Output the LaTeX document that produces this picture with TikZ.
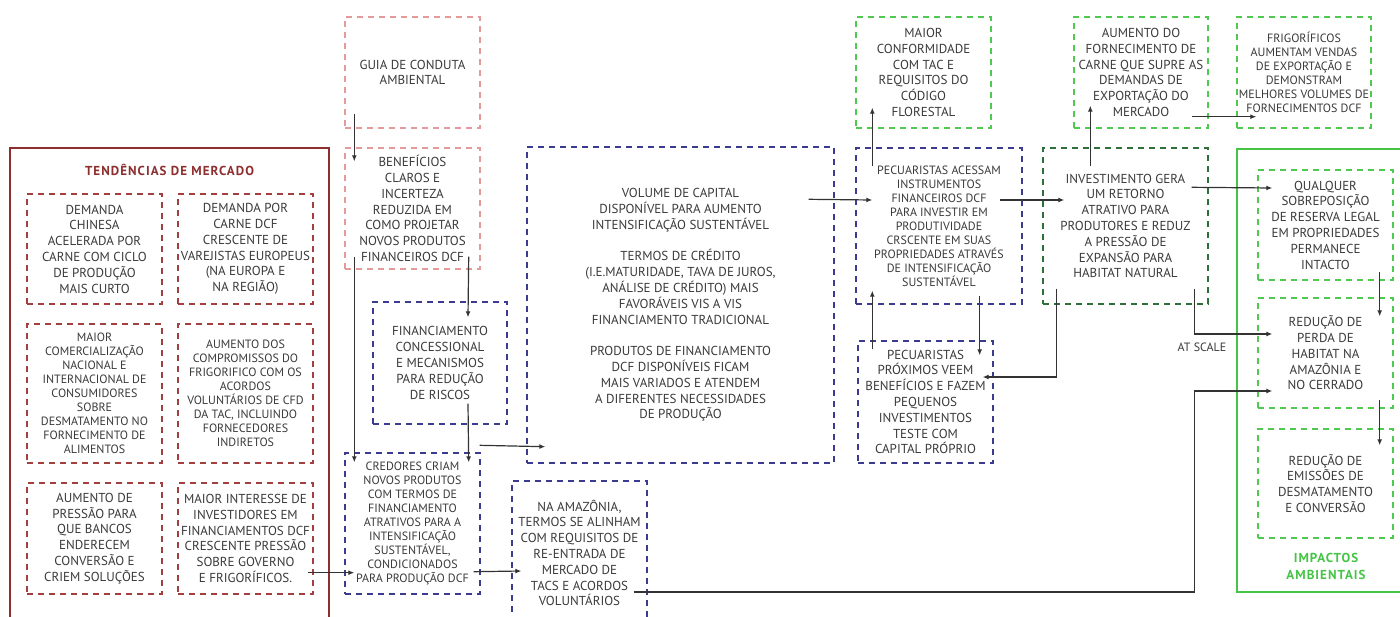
\documentclass[tikz,border=0pt]{standalone}
\usepackage{fontspec}
\setmainfont{PT Sans}
\usetikzlibrary{arrows.meta,calc}
\definecolor{txt}{HTML}{3A3A3A}
\definecolor{mkred}{HTML}{8E2F2F}
\definecolor{dred}{HTML}{A33F3F}
\definecolor{pink}{HTML}{E39A9A}
\definecolor{navy}{HTML}{3B3B8F}
\definecolor{lgreen}{HTML}{4FC94F}
\definecolor{dgreen}{HTML}{2F6F3A}
\definecolor{sgreen}{HTML}{45C445}
\definecolor{arrc}{HTML}{333333}
\newcommand\mynormal{\fontsize{13pt}{15.8pt}\selectfont}
\newcommand\mysmall{\fontsize{12pt}{14pt}\selectfont}
\begin{document}
\begin{tikzpicture}[x=1pt,y=-1pt,
  every node/.style={text=txt,font=\mynormal,align=center,inner sep=0pt},
  sz/.style 2 args={minimum width=#1pt,minimum height=#2pt},
  dbox/.style={draw=#1,dash pattern=on 6pt off 5pt,line width=1.4pt},
  sbox/.style={draw=#1,line width=1.5pt},
  small/.style={font=\mysmall},
  arr/.style={draw=arrc,line width=1.2pt,-{Latex[length=6pt,width=5pt]}},
  ln/.style={draw=arrc,line width=1.2pt}]
\path[use as bounding box] (0,0) rectangle (1400,616);
\clip (0,0) rectangle (1400,616);
\fill[white] (0,0) rectangle (1400,616);

% ---- market trends container
\node[sbox=mkred,sz={319}{477}] (mkt) at (169.5,386.5) {};
\node[font=\fontsize{13pt}{15pt}\selectfont\bfseries\addfontfeatures{LetterSpace=8},text=mkred] (mkttitle) at (169.5,170) {TENDÊNCIAS DE MERCADO};
\node[dbox=dred,sz={135}{110}] (b1) at (94.5,249) {DEMANDA\\CHINESA\\ACELERADA POR\\CARNE COM CICLO\\DE PRODUÇÃO\\MAIS CURTO};
\node[dbox=dred,sz={135}{110}] (b2) at (245.5,249) {DEMANDA POR\\CARNE DCF\\CRESCENTE DE\\VAREJISTAS EUROPEUS\\(NA EUROPA E\\NA REGIÃO)};
\node[dbox=dred,sz={135}{139},small] (b3) at (94.5,393.5) {MAIOR\\COMERCIALIZAÇÃO\\NACIONAL E\\INTERNACIONAL DE\\CONSUMIDORES\\SOBRE\\DESMATAMENTO NO\\FORNECIMENTO DE\\ALIMENTOS};
\node[dbox=dred,sz={135}{139},small] (b4) at (245.5,393.5) {AUMENTO DOS\\COMPROMISSOS DO\\FRIGORIFICO COM OS\\ACORDOS\\VOLUNTÁRIOS DE CFD\\DA TAC, INCLUINDO\\FORNECEDORES\\INDIRETOS};
\node[dbox=dred,sz={135}{111}] (b5) at (94.5,538.5) {AUMENTO DE\\PRESSÃO PARA\\QUE BANCOS\\ENDERECEM\\CONVERSÃO E\\CRIEM SOLUÇÕES};
\node[dbox=dred,sz={135}{111}] (b6) at (245.5,538.5) {MAIOR INTERESSE DE\\INVESTIDORES EM\\FINANCIAMENTOS DCF\\CRESCENTE PRESSÃO\\SOBRE GOVERNO\\E FRIGORÍFICOS.};

% ---- finance column
\node[dbox=pink,sz={135}{111}] (guia) at (412.5,72.5) {GUIA DE CONDUTA\\AMBIENTAL};
\node[dbox=pink,sz={135}{121}] (benef) at (412.5,208.5) {BENEFÍCIOS\\CLAROS E\\INCERTEZA\\REDUZIDA EM\\COMO PROJETAR\\NOVOS PRODUTOS\\FINANCEIROS DCF};
\node[dbox=navy,sz={134}{122}] (fin) at (440,363) {FINANCIAMENTO\\CONCESSIONAL\\E MECANISMOS\\PARA REDUÇÃO\\DE RISCOS};
\node[dbox=navy,sz={135}{141},small] (cred) at (412.5,523.5) {CREDORES CRIAM\\NOVOS PRODUTOS\\COM TERMOS DE\\FINANCIAMENTO\\ATRATIVOS PARA A\\INTENSIFICAÇÃO\\SUSTENTÁVEL,\\CONDICIONADOS\\PARA PRODUÇÃO DCF};
\node[dbox=navy,sz={135}{144}] (amaz) at (579.5,553) {NA AMAZÔNIA,\\TERMOS SE ALINHAM\\COM REQUISITOS DE\\RE-ENTRADA DE\\MERCADO DE\\TACS E ACORDOS\\VOLUNTÁRIOS};
\node[dbox=navy,sz={307}{316}] (vol) at (680.5,305) {VOLUME DE CAPITAL\\DISPONÍVEL PARA AUMENTO\\INTENSIFICAÇÃO SUSTENTÁVEL\\[15.8pt]TERMOS DE CRÉDITO\\(I.E.MATURIDADE, TAVA DE JUROS,\\ANÁLISE DE CRÉDITO) MAIS\\FAVORÁVEIS VIS A VIS\\FINANCIAMENTO TRADICIONAL\\[15.8pt]PRODUTOS DE FINANCIAMENTO\\DCF DISPONÍVEIS FICAM\\MAIS VARIADOS E ATENDEM\\A DIFERENTES NECESSIDADES\\DE PRODUÇÃO};

% ---- producers
\node[dbox=lgreen,sz={135}{111}] (conf) at (923.5,72.5) {MAIOR\\CONFORMIDADE\\COM TAC E\\REQUISITOS DO\\CÓDIGO\\FLORESTAL};
\node[dbox=navy,sz={166}{156},small] (aces) at (939,226) {PECUARISTAS ACESSAM\\INSTRUMENTOS\\FINANCEIROS DCF\\PARA INVESTIR EM\\PRODUTIVIDADE\\CRSCENTE EM SUAS\\PROPRIEDADES ATRAVÉS\\DE INTENSIFICAÇÃO\\SUSTENTÁVEL};
\node[dbox=navy,sz={135}{122}] (prox) at (925.5,402) {PECUARISTAS\\PRÓXIMOS VEEM\\BENEFÍCIOS E FAZEM\\PEQUENOS\\INVESTIMENTOS\\TESTE COM\\CAPITAL PRÓPRIO};
\node[dbox=dgreen,sz={165}{156}] (inv) at (1125.5,226) {INVESTIMENTO GERA\\UM RETORNO\\ATRATIVO PARA\\PRODUTORES E REDUZ\\A PRESSÃO DE\\EXPANSÃO PARA\\HABITAT NATURAL};
\node[dbox=lgreen,sz={134}{111}] (aum) at (1141,72.5) {AUMENTO DO\\FORNECIMENTO DE\\CARNE QUE SUPRE AS\\DEMANDAS DE\\EXPORTAÇÃO DO\\MERCADO};
\node[dbox=lgreen,sz={134}{111},small] (frig) at (1304,72.5) {FRIGORÍFICOS\\AUMENTAM VENDAS\\DE EXPORTAÇÃO E\\DEMONSTRAM\\MELHORES VOLUMES DE\\FORNECIMENTOS DCF};

% ---- environmental impacts
\node[sbox=sgreen,sz={173}{443}] (imp) at (1323.5,370.5) {};
\node[dbox=lgreen,sz={135}{110}] (qual) at (1325.5,225) {QUALQUER\\SOBREPOSIÇÃO\\DE RESERVA LEGAL\\EM PROPRIEDADES\\PERMANECE\\INTACTO};
\node[dbox=lgreen,sz={135}{110}] (perda) at (1325.5,353) {REDUÇÃO DE\\PERDA DE\\HABITAT NA\\AMAZÔNIA E\\NO CERRADO};
\node[dbox=lgreen,sz={135}{109}] (emis) at (1325.5,483.5) {REDUÇÃO DE\\EMISSÕES DE\\DESMATAMENTO\\E CONVERSÃO};
\node[font=\fontsize{13pt}{17pt}\selectfont\bfseries\addfontfeatures{LetterSpace=8},text=sgreen] (implabel) at (1326,566) {IMPACTOS\\AMBIENTAIS};
\node[font=\fontsize{12pt}{14pt}\selectfont] (atscale) at (1202,347) {AT SCALE};

% ---- connectors
\draw[arr] ($(guia.south west)+(10,-15)$) -- ($(benef.north west)+(10,14)$);
\draw[arr] ($(benef.south west)+(10,-13)$) -- ($(cred.north west)+(10,10)$);
\draw[arr] ($(benef.south east)+(-12,-13)$) -- ($(fin.north)+(28,16)$);
\draw[arr] ($(fin.south)+(28,-21)$) -- ($(cred.north east)+(-12,10)$);
\draw[arr] ($(b6.south east)+(-6,-22)$) -- ($(cred.south west)+(10,-22)$);
\draw[arr] ($(cred.south east)+(-7,-23)$) -- ($(amaz.west)+(10,18)$);
\draw[arr] ($(cred.north east)+(-1,-7)$) -- ($(vol.south west)+(19,-17)$);
\draw[arr] ($(vol.north east)+(-26,53)$) -- ($(aces.west)+(17,-26)$);
\draw[arr] ($(aces.north west)+(17,19)$) -- ($(conf.south west)+(17,-21)$);
\draw[arr] ($(prox.north west)+(15,9)$) -- ($(aces.south west)+(17,-14)$);
\draw[arr] ($(aces.south east)+(-43,-9)$) -- ($(prox.north east)+(-14,15)$);
\draw[arr] ($(aces.east)+(-23,-26)$) -- ($(inv.west)+(22,-26)$);
\draw[arr] ($(inv.north west)+(48,19)$) -- ($(aum.south west)+(17,-23)$);
\draw[arr] ($(aum.south east)+(-17,-12)$) -- ($(frig.south west)+(20,-12)$);
\draw[arr] ($(inv.north east)+(-17,40)$) -- ($(qual.west)+(15,-37)$);
\draw[arr] ($(inv.south west)+(14,-16)$) |- ($(prox.east)+(-11,-25)$);
\draw[arr] ($(inv.south east)+(-14,-16)$) |- ($(perda.west)+(15,-19)$);
\draw[arr] ($(amaz.east)+(-14,39)$) -- ++(561,0) |- ($(perda.west)+(15,38)$);
\draw[arr] ($(qual.south east)+(-14,-9)$) -- ($(perda.north east)+(-14,19)$);
\draw[arr] ($(perda.south east)+(-14,-9)$) -- ($(emis.north east)+(-14,17)$);
\end{tikzpicture}
\end{document}
